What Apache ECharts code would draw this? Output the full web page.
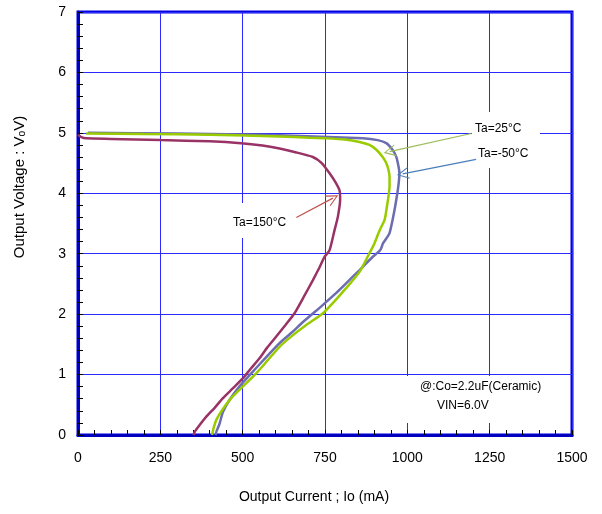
<!DOCTYPE html>
<html><head><meta charset="utf-8">
<script src="https://cdn.jsdelivr.net/npm/echarts@6/dist/echarts.min.js"></script>
<style>html,body{margin:0;padding:0;background:#fff}#c{width:602px;height:514px}</style>
</head><body><div id="c"></div>
<script>
// Data (Output Current mA, Output Voltage V)
var xTicks = [0, 250, 500, 750, 1000, 1250, 1500];
var yTicks = [0, 1, 2, 3, 4, 5, 6, 7];
var curve150 = [[0,4.97],[10,4.93],[25,4.91],[100,4.9],[250,4.88],[400,4.86],[495,4.83],[560,4.79],[612,4.74],[660,4.68],[713,4.6],[740,4.5],[764,4.33],[782,4.18],[794,4.05],[796,3.9],[789,3.61],[779,3.39],[764,3.06],[749,2.95],[732,2.76],[713,2.56],[685,2.28],[657,2.01],[630,1.82],[602,1.63],[575,1.45],[551,1.27],[525,1.1],[501,0.94],[470,0.77],[440,0.61],[415,0.45],[389,0.3],[370,0.17],[354,0.05],[351,0]];
var curve25 = [[25,4.99],[200,4.98],[400,4.97],[612,4.94],[703,4.92],[749,4.91],[810,4.89],[855,4.85],[885,4.8],[906,4.72],[925,4.6],[936,4.5],[943,4.38],[946,4.27],[946,4.12],[944,4.0],[938,3.78],[931,3.56],[916,3.39],[900,3.17],[890,3.06],[885,3.01],[855,2.7],[814,2.43],[780,2.22],[743,2.01],[693,1.82],[650,1.64],[612,1.46],[575,1.23],[541,1.02],[500,0.8],[465,0.61],[440,0.43],[420,0.25],[412,0.12],[409,0.05],[407,0]];
var curveM50 = [[30,5.0],[300,4.99],[612,4.96],[865,4.91],[910,4.88],[936,4.83],[955,4.72],[966,4.61],[973,4.45],[976,4.33],[974,4.18],[971,4.05],[961,3.72],[946,3.34],[936,3.25],[926,3.17],[918,3.06],[895,2.95],[855,2.73],[814,2.51],[780,2.33],[743,2.15],[683,1.87],[650,1.7],[612,1.52],[570,1.28],[526,1.02],[490,0.8],[460,0.58],[440,0.38],[430,0.19],[422,0.08],[420,0.05],[418,0]];
var arrow25 = [[1194,4.99],[946,4.69]];
var arrowM50 = [[1209,4.56],[986,4.32]];
var arrow150 = [[663,3.60],[774,3.92]];

var chevron = 'path://M0,0 L6,12 L4.8,12 L0,2.4 L-4.8,12 L-6,12 Z';
function arrowLine(pts, color){
  return {
    silent: true, animation: false,
    symbol: ['none', chevron], symbolSize: [12, 12],
    lineStyle: {color: color, width: 1.2, type: 'solid'},
    label: {show: false},
    data: [[{coord: pts[0]}, {coord: pts[1]}]]
  };
}
var chart = echarts.init(document.getElementById('c'));
var font = 'Liberation Sans, Arial, sans-serif';
function plain(v){ return String(v); }
chart.setOption({
  animation: false,
  backgroundColor: '#fff',
  grid: {left: 78, right: 30, top: 12, bottom: 79, show: true, borderColor: '#0000e0', borderWidth: 3, backgroundColor: 'transparent'},
  xAxis: {
    type: 'value', min: xTicks[0], max: xTicks[xTicks.length-1], interval: 250,
    axisLine: {show: true, lineStyle: {color: '#0000c0', width: 3}},
    axisTick: {show: true, inside: true, length: 5, lineStyle: {color: '#000', width: 1}},
    minorTick: {show: true, splitNumber: 5, length: 5, lineStyle: {color: '#000', width: 1}},
    splitLine: {show: true, lineStyle: {color: '#2a2aff', width: 1}},
    axisLabel: {color: '#000', fontSize: 14, fontFamily: font, margin: 16, formatter: plain}
  },
  yAxis: {
    type: 'value', min: yTicks[0], max: yTicks[yTicks.length-1], interval: 1,
    axisLine: {show: true, lineStyle: {color: '#0000c0', width: 3}},
    axisTick: {show: true, inside: true, length: 5, lineStyle: {color: '#000', width: 1}},
    minorTick: {show: true, splitNumber: 5, length: 5, lineStyle: {color: '#000', width: 1}},
    splitLine: {show: true, lineStyle: {color: '#2a2aff', width: 1}},
    axisLabel: {color: '#000', fontSize: 14, fontFamily: font, margin: 12, formatter: plain}
  },
  series: [
    {type: 'line', name: 'Ta=-50°C', data: curveM50, showSymbol: false, smooth: 0.2,
     lineStyle: {color: '#6c6cb0', width: 2.5}, itemStyle: {color: '#6c6cb0'}, z: 3,
     markLine: arrowLine(arrowM50, '#4a7ebb')},
    {type: 'line', name: 'Ta=25°C', data: curve25, showSymbol: false, smooth: 0.2,
     lineStyle: {color: '#99cc00', width: 2.5}, itemStyle: {color: '#99cc00'}, z: 4,
     markLine: arrowLine(arrow25, '#9bbb59')},
    {type: 'line', name: 'Ta=150°C', data: curve150, showSymbol: false, smooth: 0.2,
     lineStyle: {color: '#993366', width: 2.5}, itemStyle: {color: '#993366'}, z: 5,
     markLine: arrowLine(arrow150, '#c0504d')}
  ],
  graphic: [
    {type: 'rect', z: 1, shape: {x: 472, y: 112, width: 68, height: 56}, style: {fill: '#fff'}},
    {type: 'rect', z: 1, shape: {x: 214, y: 203, width: 80, height: 35}, style: {fill: '#fff'}},
    {type: 'rect', z: 1, shape: {x: 405, y: 376, width: 140, height: 47}, style: {fill: '#fff'}},
    {type: 'text', z: 2, left: 475, top: 123, style: {text: 'Ta=25°C', fill: '#000', font: '12px ' + font}},
    {type: 'text', z: 2, left: 478, top: 148, style: {text: 'Ta=-50°C', fill: '#000', font: '12px ' + font}},
    {type: 'text', z: 2, left: 233, top: 217, style: {text: 'Ta=150°C', fill: '#000', font: '12px ' + font}},
    {type: 'text', z: 2, left: 420, top: 381, style: {text: '@:Co=2.2uF(Ceramic)', fill: '#000', font: '12px ' + font}},
    {type: 'text', z: 2, left: 437, top: 400, style: {text: 'VIN=6.0V', fill: '#000', font: '12px ' + font}},
    {type: 'text', x: 314, y: 497, style: {text: 'Output Current ; Io (mA)', fill: '#000', font: '14px ' + font, align: 'center', verticalAlign: 'middle'}},
    {type: 'text', x: 20, y: 187, rotation: Math.PI/2, style: {text: 'Output Voltage : V\u2092V)', fill: '#000', font: '15px ' + font, align: 'center', verticalAlign: 'middle'}}
  ]
});
</script></body></html>
